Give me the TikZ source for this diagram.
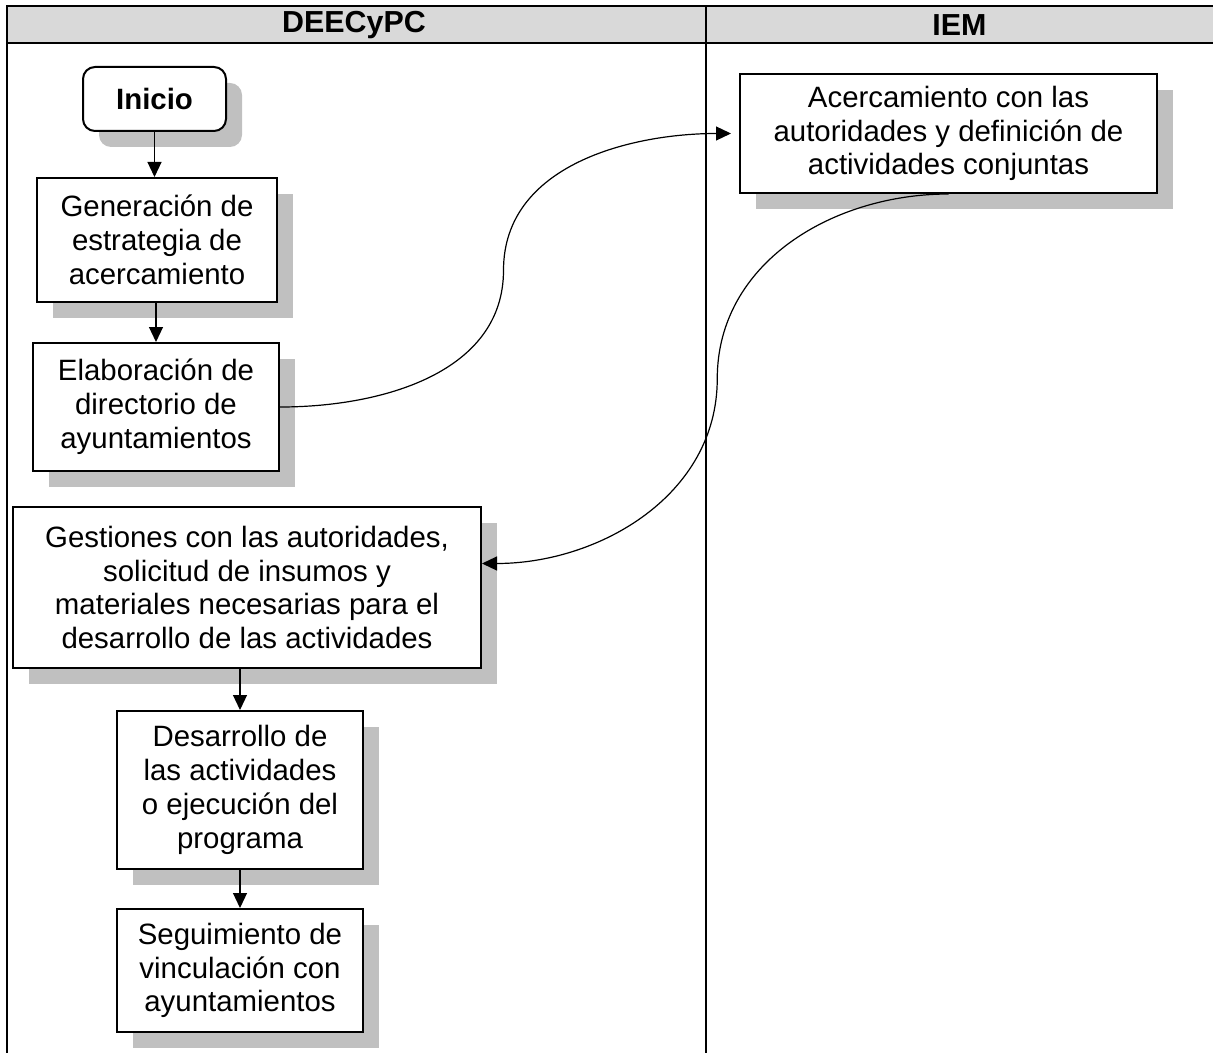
\documentclass[tikz,border=0pt]{standalone}
\usepackage{fontspec}
\setmainfont{Liberation Sans}
\usetikzlibrary{arrows.meta,shadows,calc}
\definecolor{headgray}{HTML}{D9D9D9}
\definecolor{shadowgray}{HTML}{C0C0C0}

\begin{document}
\begin{tikzpicture}[x=0.5pt,y=-0.5pt,
  box/.style={draw, line width=1pt, fill=white, align=center, inner sep=0pt,
    font=\fontsize{14.7}{16.9}\selectfont,
    drop shadow={shadow xshift=8pt, shadow yshift=-8pt, fill=shadowgray, opacity=1}},
  lane/.style={font=\bfseries\fontsize{15.2}{17.5}\selectfont},
  arr/.style={-{Triangle[length=7.5pt,width=7pt]}, line width=0.6pt}]
\useasboundingbox (0,0) rectangle (1213,1053);

% swimlanes
\fill[headgray] (7,6) rectangle (1213,43);
\draw[line width=1.2pt] (1213,6) -- (7,6) -- (7,1053);
\draw[line width=1.2pt] (7,43) -- (1213,43);
\draw[line width=1.2pt] (706,6) -- (706,1053);
\node[lane] (deec) at (354,25) {DEECyPC};
\node[lane] (iem) at (959.5,25) {IEM};

% steps
\node[box, rounded corners=6pt, font=\bfseries\fontsize{14.7}{16.9}\selectfont, minimum width=71.5pt, minimum height=32pt] (inicio) at (154.5,99) {Inicio};
\node[box, minimum width=120pt, minimum height=62pt] (gen) at (157,240) {Generación de\\estrategia de\\acercamiento};
\node[box, minimum width=123pt, minimum height=64pt] (elab) at (156,407) {Elaboración de\\directorio de\\ayuntamientos};
\node[box, minimum width=234pt, minimum height=80.5pt] (gest) at (247,587.5) {Gestiones con las autoridades,\\solicitud de insumos y\\materiales necesarias para el\\desarrollo de las actividades};
\node[box, minimum width=123pt, minimum height=79pt] (desa) at (240,790) {Desarrollo de\\las actividades\\o ejecución del\\programa};
\node[box, minimum width=123pt, minimum height=61.5pt] (segu) at (240,970.5) {Seguimiento de\\vinculación con\\ayuntamientos};
\node[box, minimum width=208.5pt, minimum height=59.5pt] (acer) at (948.5,133.5) {Acercamiento con las\\autoridades y definición de\\actividades conjuntas};

% connectors
\draw[arr] (inicio.south) -- (inicio.south |- gen.north);
\draw[arr] (gen.south -| elab.north) -- (elab.north);
\draw[arr] (gest.south -| desa.north) -- (desa.north);
\draw[arr] (desa) -- (segu);
\draw[arr, shorten >=4pt] (elab.east) to[out=0, in=-90] ($(elab.east)!0.5!(acer.west)+(-6,0)$) to[out=90, in=180] (acer.west);
\draw[arr] (acer.south) to[out=180, in=90] ($(acer.south)!0.5!([yshift=12pt]gest.east)+(2,0)$) to[out=-90, in=0] ([yshift=12pt]gest.east);
\end{tikzpicture}
\end{document}
